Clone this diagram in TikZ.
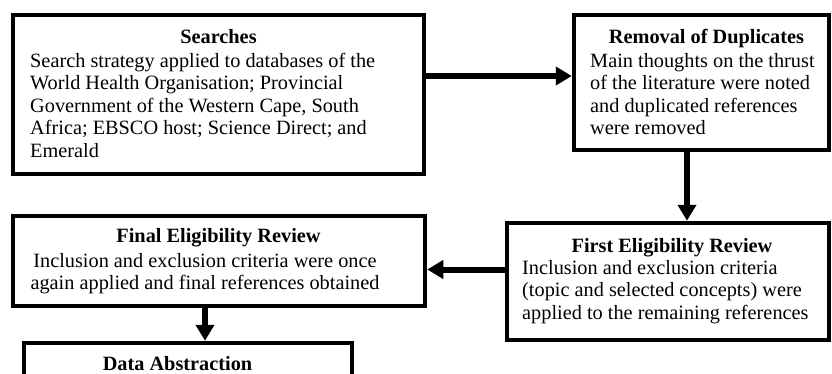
\documentclass[tikz,border=0pt]{standalone}
\usepackage{fontspec}
\setmainfont{Liberation Serif}
\usetikzlibrary{arrows.meta}

\tikzset{
  stagebox/.style={draw=black, line width=4.5pt, rectangle, inner sep=0pt, fill=white},
  stagetitle/.style={inner sep=0pt, anchor=base, font=\fontsize{20.3}{22.5}\selectfont\bfseries},
  stagetext/.style={inner sep=0pt, font=\fontsize{20.3}{22.5}\selectfont},
  flow/.style={line width=6pt, -{Triangle[length=16pt,width=18pt]}}
}

\begin{document}
\begin{tikzpicture}[x=1pt, y=-1pt]
\useasboundingbox (0,0) rectangle (832,373);
\clip (0,0) rectangle (832,373);

% stage boxes
\node[stagebox, minimum width=411pt, minimum height=159pt] (search) at (218.5,94.5) {};
\node[stagebox, minimum width=255pt, minimum height=135pt] (dup) at (701.5,82.5) {};
\node[stagebox, minimum width=322pt, minimum height=117pt] (first) at (668,281.5) {};
\node[stagebox, minimum width=412pt, minimum height=90pt] (final) at (219,261) {};
\node[stagebox, minimum width=328pt, minimum height=77pt] (data) at (188,381.5) {};

% titles
\node[stagetitle] (searchT) at (218.5,43) {Searches};
\node[stagetitle] (dupT) at (706.5,43) {Removal of Duplicates};
\node[stagetitle] (firstT) at (672,252) {First Eligibility Review};
\node[stagetitle] (finalT) at (218.5,242) {Final Eligibility Review};
\node[stagetitle] (dataT) at (177.5,370) {Data Abstraction};

% descriptions
\node[stagetext, anchor=north west, align=left] (searchB) at (30,53)
  {Search strategy applied to databases of the\\
   World Health Organisation; Provincial\\
   Government of the Western Cape, South\\
   Africa; EBSCO host; Science Direct; and\\
   Emerald};
\node[stagetext, anchor=north west, align=left] (dupB) at (590,53)
  {Main thoughts on the thrust\\
   of the literature were noted\\
   and duplicated references\\
   were removed};
\node[stagetext, anchor=north west, align=left] (firstB) at (522,260)
  {Inclusion and exclusion criteria\\
   (topic and selected concepts) were\\
   applied to the remaining references};
\node[stagetext, anchor=north, align=center] (finalB) at (205,253)
  {Inclusion and exclusion criteria were once\\
   again applied and final references obtained};

% flow between stages
\coordinate (p1) at ([yshift=18.5pt]search.east);
\draw[flow] (p1) -- (p1 -| dup.west);
\coordinate (p2) at ([xshift=-14.5pt]dup.south);
\draw[flow] (p2) -- (p2 |- first.north);
\coordinate (p3) at ([yshift=12pt]first.west);
\draw[flow] (p3) -- (p3 -| final.east);
\coordinate (p4) at ([xshift=-14pt]final.south);
\draw[flow] (p4) -- (p4 |- data.north);
\end{tikzpicture}
\end{document}
